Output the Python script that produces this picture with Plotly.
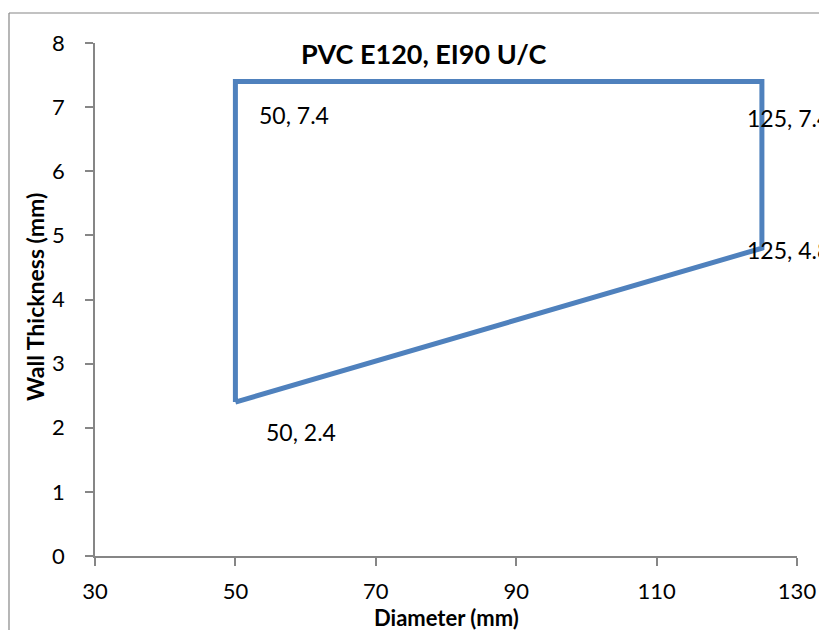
import plotly.graph_objects as go

diameter = [50, 50, 125, 125, 50]
thickness = [2.4, 7.4, 7.4, 4.8, 2.4]
label_x = [50, 125, 125, 50]
label_y = [7.4, 7.4, 4.8, 2.4]
label_text = ["50, 7.4", "125, 7.4", "125, 4.8", "50, 2.4"]
label_shift = [(22, -34), (-17, -37), (-17, -2), (29, -30)]

FONT = "Lato"
W, H = 827, 630
OFF = 8  # page body margin offset
L, T = 95 - OFF, 43 - OFF
PW, PH = 702, 513
R = W - L - PW
B = H - T - PH

fig = go.Figure()
fig.add_trace(go.Scatter(
    x=diameter, y=thickness, mode="lines",
    line=dict(color="#4F81BD", width=5),
    hoverinfo="skip", showlegend=False,
))

for x, y, t, (dx, dy) in zip(label_x, label_y, label_text, label_shift):
    fig.add_annotation(x=x, y=y, text=t, showarrow=False,
                       xanchor="left", yanchor="middle",
                       xshift=dx, yshift=dy,
                       font=dict(family=FONT, size=23, color="black"))


def px(xp):
    return (xp - OFF - L) / PW


def py(yp):
    return (T + PH - (yp - OFF)) / PH


fig.add_annotation(xref="paper", yref="paper", x=px(424), y=py(53),
                   text="<b>PVC E120, EI90 U/C</b>", showarrow=False,
                   xanchor="center", yanchor="middle",
                   font=dict(family=FONT, size=27, color="black"))

# chart border (partially outside the view)
fig.add_shape(type="line", xref="paper", yref="paper", x0=px(9), x1=px(9), y0=py(13), y1=-1,
              line=dict(color="#868686", width=1.2))
fig.add_shape(type="line", xref="paper", yref="paper", x0=px(9), x1=2, y0=py(13), y1=py(13),
              line=dict(color="#868686", width=1.2))

axis_common = dict(showgrid=False, zeroline=False, showline=True,
                   linecolor="#868686", linewidth=1.5,
                   ticks="outside", ticklen=8, tickcolor="#868686", tickwidth=1.5,
                   tickfont=dict(family=FONT, size=22, color="black"))

fig.update_xaxes(range=[30, 130], tickmode="array", tickvals=[30, 50, 70, 90, 110, 130],
                 ticklabelstandoff=7, **axis_common)
fig.update_yaxes(range=[0, 8], tickmode="array", tickvals=list(range(0, 9)),
                 ticklabelstandoff=16, **axis_common)

fig.add_annotation(xref="paper", yref="paper", x=px(446), y=py(618),
                   text="<b>Diameter (mm)</b>", showarrow=False,
                   xanchor="center", yanchor="middle",
                   font=dict(family=FONT, size=22, color="black"))
fig.add_annotation(xref="paper", yref="paper", x=px(35), y=py(297),
                   text="<b>Wall Thickness (mm)</b>", showarrow=False, textangle=-90,
                   xanchor="center", yanchor="middle",
                   font=dict(family=FONT, size=23, color="black"))

fig.update_layout(width=W, height=H, margin=dict(l=L, r=R, t=T, b=B, autoexpand=False),
                  paper_bgcolor="white", plot_bgcolor="white")

fig.write_html("out.html")
